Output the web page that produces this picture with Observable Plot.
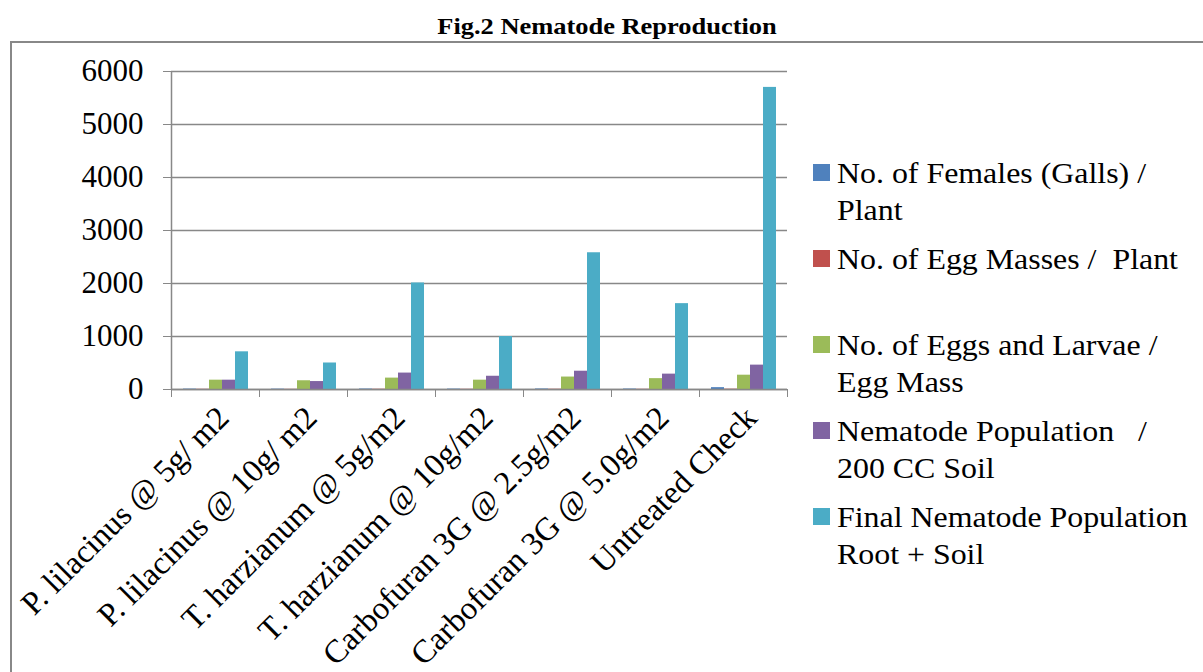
<!DOCTYPE html>
<html>
<head>
<meta charset="utf-8">
<script src="https://cdn.jsdelivr.net/npm/d3@7"></script>
<script src="https://cdn.jsdelivr.net/npm/@observablehq/plot@0.6"></script>
<style>
  html, body { margin: 0; padding: 0; background: #fff; }
  #page { position: relative; width: 1203px; height: 672px; overflow: hidden; background: #fff; }
  #frame { position: absolute; left: 10px; top: 41px; width: 1200px; height: 700px; border: 2px solid #888; }
  .layer { position: absolute; left: 0; top: 0; }
  .layer svg text { fill: #000; }
</style>
</head>
<body>
<div id="page">
  <div id="frame"></div>
  <div id="chartA" class="layer"></div>
  <div id="chartB" class="layer"></div>
  <div id="annot" class="layer"></div>
</div>
<script>
// ---- data ----
const categories = [
  "P. lilacinus @ 5g/ m2",
  "P. lilacinus @ 10g/ m2",
  "T. harzianum @ 5g/m2",
  "T. harzianum @ 10g/m2",
  "Carbofuran 3G @ 2.5g/m2",
  "Carbofuran 3G @ 5.0g/m2",
  "Untreated Check"
];
const series = [
  "No. of Females (Galls) /\nPlant",
  "No. of Egg Masses /  Plant",
  "No. of Eggs and Larvae /\nEgg Mass",
  "Nematode Population   /\n200 CC Soil",
  "Final Nematode Population\nRoot + Soil"
];
const females          = [8, 7, 9, 8, 10, 9, 35];
const eggMasses        = [4, 3, 5, 4, 5, 4, 6];
const eggsLarvae       = [176, 165, 215, 176, 235, 205, 270];
const population200cc  = [176, 150, 310, 250, 345, 290, 460];
const finalPopulation  = [711, 500, 2010, 1000, 2580, 1620, 5700];
const yTicks = [0, 1000, 2000, 3000, 4000, 5000, 6000];
const colors = ["#4F81BD", "#C0504D", "#9BBB59", "#8064A2", "#4BACC6"];
const title = "Fig.2 Nematode Reproduction";

const seriesValues = [females, eggMasses, eggsLarvae, population200cc, finalPopulation];
const table = [];
categories.forEach((c, i) => {
  series.forEach((s, j) => table.push({category: c, series: s, value: seriesValues[j][i]}));
});

const gray = "#888";
const serifFont = "Liberation Serif";
const common = {
  width: 800, height: 672,
  marginTop: 71, marginBottom: 283, marginLeft: 171, marginRight: 13,
  style: {background: "transparent", fontFamily: serifFont, fontSize: "31px", color: gray, overflow: "visible"}
};

// ---- bars, grid, y axis ----
const chartA = Plot.plot({
  ...common,
  fx: {domain: categories, padding: 0, axis: null, label: null},
  x: {domain: series, paddingInner: 0, paddingOuter: 0.83, axis: null},
  y: {domain: [0, 6000], ticks: yTicks, tickSize: 8, tickPadding: 20, tickFormat: d => String(d), label: null},
  color: {domain: series, range: colors},
  marks: [
    Plot.ruleY(yTicks, {stroke: gray, strokeWidth: 1.5}),
    Plot.barY(table, {fx: "category", x: "series", y: "value", fill: "series"})
  ]
});
document.getElementById("chartA").appendChild(chartA);

// ---- category axis ----
const chartB = Plot.plot({
  ...common,
  x: {domain: [0, categories.length], ticks: categories.length, tickSize: 8, tickFormat: () => "", label: null},
  y: {domain: [0, 6000], axis: null},
  marks: [
    Plot.ruleX([0], {y1: 0, y2: 6000, stroke: gray, strokeWidth: 1.5}),
    Plot.ruleY([0], {x1: 0, x2: categories.length, stroke: gray, strokeWidth: 1.5}),
    Plot.text(categories, {
      x: (d, i) => i + 0.5, y: () => 0, text: d => d,
      rotate: -45, textAnchor: "end", lineAnchor: "middle",
      dx: 8, dy: 23, fill: "#000", fontSize: 32.5
    })
  ]
});
document.getElementById("chartB").appendChild(chartB);

// ---- title and legend (SVG text so the serif font is used) ----
const svg = d3.select("#annot").append("svg")
  .attr("width", 1203).attr("height", 672)
  .attr("style", `font-family: ${serifFont}; overflow: visible;`);

svg.append("text")
  .attr("transform", "translate(607,33.5) scale(1.15,1)")
  .attr("text-anchor", "middle")
  .attr("font-weight", "bold")
  .attr("font-size", 23)
  .text(title);

series.forEach((s, j) => {
  const top = 154 + j * 86;
  svg.append("rect")
    .attr("x", 813).attr("y", top + 10).attr("width", 17).attr("height", 17)
    .attr("fill", colors[j]);
  s.split("\n").forEach((line, k) => {
    svg.append("text")
      .attr("transform", `translate(837,${top + 28.6 + k * 37}) scale(1.1,1)`)
      .attr("font-size", 29)
      .style("white-space", "pre")
      .text(line);
  });
});
</script>
</body>
</html>
